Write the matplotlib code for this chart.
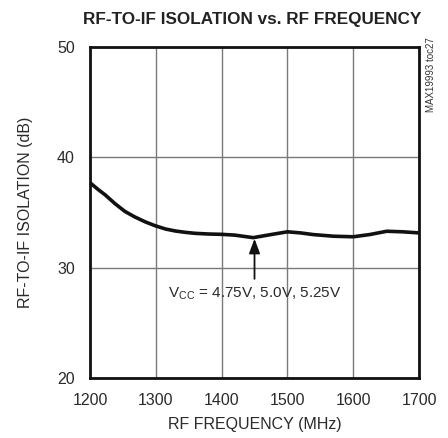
import matplotlib
matplotlib.use('Agg')
from matplotlib import pyplot as plt
from matplotlib import font_manager

# data
freq = [1200, 1212, 1223, 1238, 1253, 1268, 1284, 1299, 1315, 1330, 1345,
        1360, 1380, 1400, 1420, 1448, 1475, 1500, 1520, 1539, 1570, 1600,
        1625, 1651, 1675, 1700]
isolation = [37.7, 37.1, 36.6, 35.8, 35.1, 34.6, 34.15, 33.8, 33.5, 33.32, 33.2,
             33.11, 33.05, 33.02, 32.95, 32.72, 33.0, 33.25, 33.15, 33.0, 32.85, 32.8,
             33.0, 33.3, 33.25, 33.15]

xticks = [1200, 1300, 1400, 1500, 1600, 1700]
yticks = [20, 30, 40, 50]

# condensed face if there is one, otherwise Liberation Sans
names = {f.name for f in font_manager.fontManager.ttflist}
fam = 'Liberation Sans Narrow' if 'Liberation Sans Narrow' in names else 'Liberation Sans'
plt.rcParams['font.family'] = [fam, 'DejaVu Sans']
narrow = fam == 'Liberation Sans Narrow'

fig = plt.figure(figsize=(4.48, 4.38), dpi=100)
ax = fig.add_axes([0.2009, 0.137, 0.7344, 0.7557])

ax.plot(freq, isolation, color='#111111', lw=2.6, solid_capstyle='round',
        solid_joinstyle='round')

ax.set_xlim(1200, 1700)
ax.set_ylim(20, 50)
ax.set_xticks(xticks)
ax.set_yticks(yticks)
ax.grid(True, color='#7a7a7a', lw=1.0)
fs = 13 if narrow else 11.5
ax.tick_params(length=0, labelsize=fs, colors='#2a2a2a')
ax.tick_params(axis='x', pad=11)
ax.tick_params(axis='y', pad=11)
for s in ax.spines.values():
    s.set_linewidth(2.0)
    s.set_color('#111111')

ax.set_xlabel('RF FREQUENCY (MHz)', fontsize=fs, color='#2a2a2a', labelpad=6)
ax.set_ylabel('RF-TO-IF ISOLATION (dB)', fontsize=fs, color='#2a2a2a', labelpad=17)

fig.text(0.5636, 0.955, 'RF-TO-IF ISOLATION vs. RF FREQUENCY', ha='center', va='center',
         fontsize=16 if narrow else 12.3, fontweight='bold', color='#222222')
fig.text(0.962, 0.83, 'MAX19993 toc27', rotation=90, ha='center', va='center',
         fontsize=8 if narrow else 7, color='#333333')

ax.annotate('V$_{\\mathregular{CC}}$ = 4.75V, 5.0V, 5.25V', xy=(1450, 32.75), xytext=(1450, 27.6),
            ha='center', va='center', fontsize=13 if narrow else 11, color='#2a2a2a',
            arrowprops=dict(arrowstyle='-|>,head_length=0.8,head_width=0.3', color='#111111',
                            lw=1.3, shrinkA=3, shrinkB=1))

fig.savefig('out.png', dpi=100)
